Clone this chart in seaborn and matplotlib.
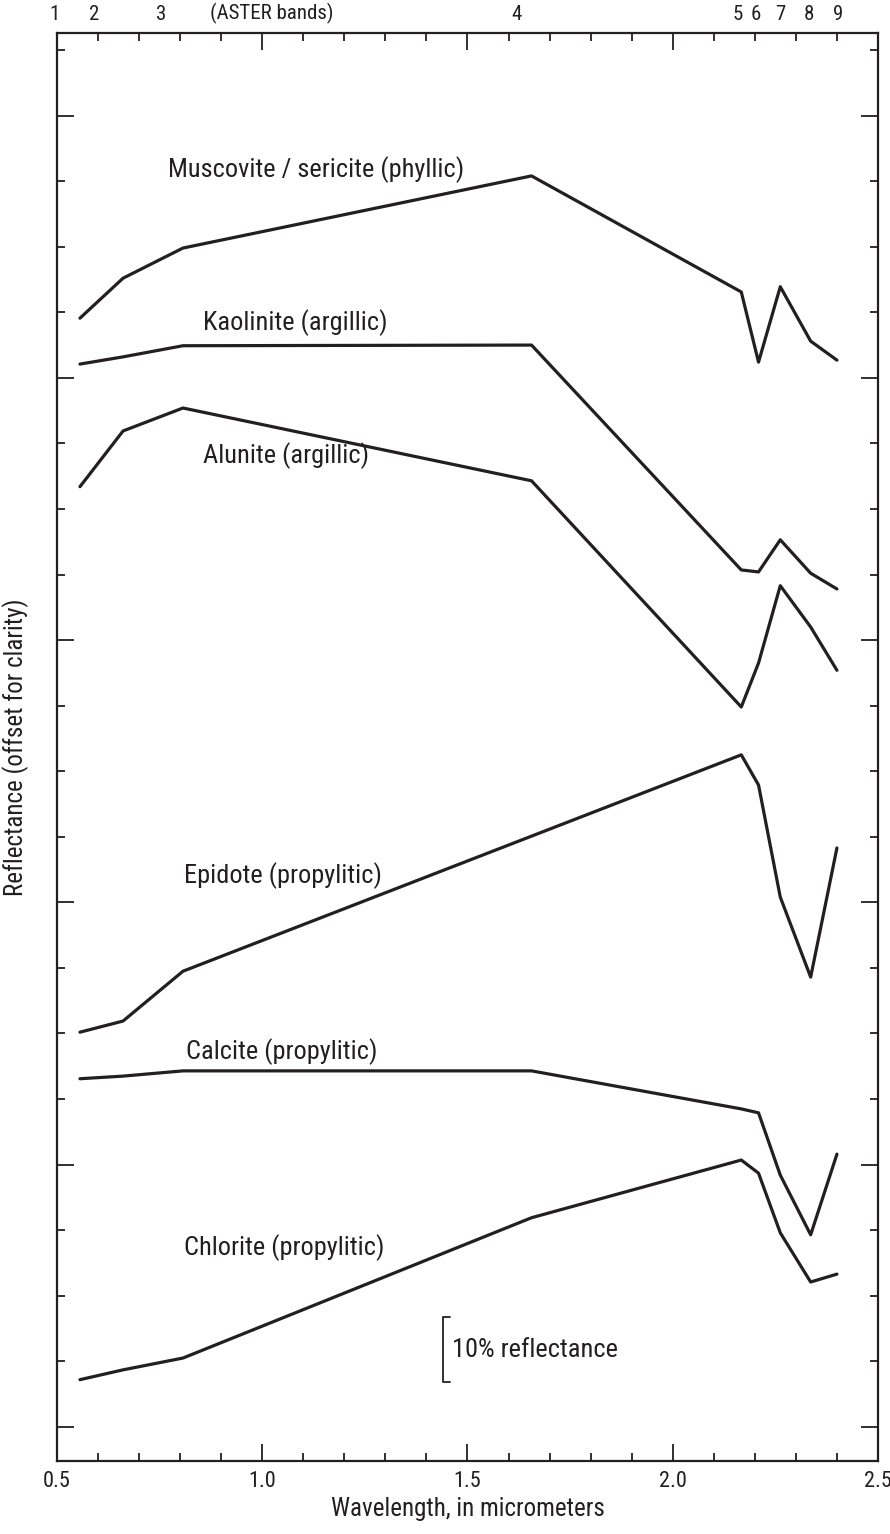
import numpy as np
import pandas as pd
import matplotlib
matplotlib.use("Agg")
import matplotlib.pyplot as plt
from matplotlib.ticker import MultipleLocator
from matplotlib import font_manager
import seaborn as sns

# ---- data ----
wavelength = [0.556, 0.661, 0.807, 1.656, 2.167, 2.209, 2.262, 2.336, 2.400]
muscovite = [169.1, 175.2, 179.8, 190.8, 173.1, 162.4, 173.9, 165.6, 162.7]
kaolinite = [162.1, 163.2, 164.9, 165.0, 130.7, 130.4, 135.3, 130.2, 127.8]
alunite = [143.4, 151.9, 155.4, 144.3, 109.8, 116.5, 128.3, 122.0, 115.4]
epidote = [60.2, 61.9, 69.5, 90.1, 102.5, 97.9, 80.8, 68.6, 88.3]
calcite = [53.1, 53.5, 54.3, 54.3, 48.5, 47.9, 38.4, 29.3, 41.6]
chlorite = [7.2, 8.7, 10.5, 31.9, 40.7, 38.7, 29.6, 22.1, 23.3]

minerals = ["Muscovite / sericite (phyllic)", "Kaolinite (argillic)", "Alunite (argillic)",
            "Epidote (propylitic)", "Calcite (propylitic)", "Chlorite (propylitic)"]
series = [muscovite, kaolinite, alunite, epidote, calcite, chlorite]

band_labels = ["1", "2", "3", "(ASTER bands)", "4", "5", "6", "7", "8", "9"]
band_label_x = [0.495, 0.590, 0.754, 1.024, 1.620, 2.159, 2.202, 2.261, 2.332, 2.402]

scale_bar = [6.8, 16.8]
scale_text = "10% reflectance"

df = pd.DataFrame({
    "wavelength": wavelength * len(minerals),
    "reflectance": [v for s in series for v in s],
    "mineral": [m for m in minerals for _ in wavelength],
})

# ---- style ----
sns.set_style("ticks")
avail = {f.name for f in font_manager.fontManager.ttflist}
fam = [f for f in ["Liberation Sans Narrow", "Roboto Condensed", "Liberation Sans"] if f in avail] + ["DejaVu Sans"]
plt.rcParams["font.family"] = fam
ink = "#231f20"

fig = plt.figure(figsize=(8.9, 15.34), dpi=100)
ax = fig.add_axes([0.064, 0.0476, 0.9225, 0.9309])

sns.lineplot(data=df, x="wavelength", y="reflectance", hue="mineral", units="mineral",
             estimator=None, palette=[ink] * len(minerals), linewidth=2.3,
             legend=False, ax=ax, sort=False)

ax.set_xlim(0.5, 2.5)
ax.set_ylim(-5.2, 212.6)

ax.xaxis.set_major_locator(MultipleLocator(0.5))
ax.xaxis.set_minor_locator(MultipleLocator(0.1))
ax.yaxis.set_major_locator(MultipleLocator(40))
ax.yaxis.set_minor_locator(MultipleLocator(10))
ax.tick_params(axis="both", which="both", direction="in", top=True, right=True,
               color=ink, width=1.3)
ax.tick_params(axis="both", which="major", length=12)
ax.tick_params(axis="both", which="minor", length=6)
ax.tick_params(axis="y", which="both", labelleft=False)
ax.tick_params(axis="x", which="major", labelsize=16, pad=7, labelcolor=ink)
ax.set_xticks([0.5, 1.0, 1.5, 2.0, 2.5])
ax.set_xticklabels(["0.5", "1.0", "1.5", "2.0", "2.5"])
for sp in ax.spines.values():
    sp.set_visible(True)
    sp.set_linewidth(1.6)
    sp.set_color(ink)

ax.set_xlabel("Wavelength, in micrometers", fontsize=18, color=ink, labelpad=4)
ax.set_ylabel("Reflectance (offset for clarity)", fontsize=18, color=ink, labelpad=20)

# mineral labels
label_pos = [(0.77, 191.7), (0.855, 168.4), (0.855, 148.1), (0.81, 84.1), (0.815, 57.3), (0.81, 27.4)]
for name, (lx, ly) in zip(minerals, label_pos):
    ax.text(lx, ly, name, fontsize=19, color=ink, va="center", ha="left")

# ASTER band labels on top
for lab, bx in zip(band_labels, band_label_x):
    ax.text(bx, 1.006, lab, transform=ax.get_xaxis_transform(), fontsize=15,
            color=ink, ha="center", va="bottom", clip_on=False)

# scale bar
bx0, bx1 = 1.441, 1.458
ax.plot([bx1, bx0, bx0, bx1], [scale_bar[1], scale_bar[1], scale_bar[0], scale_bar[0]],
        color=ink, linewidth=1.3)
ax.text(1.462, (scale_bar[0] + scale_bar[1]) / 2, scale_text, fontsize=19, color=ink,
        va="center", ha="left")

fig.savefig("out.png", dpi=100)
